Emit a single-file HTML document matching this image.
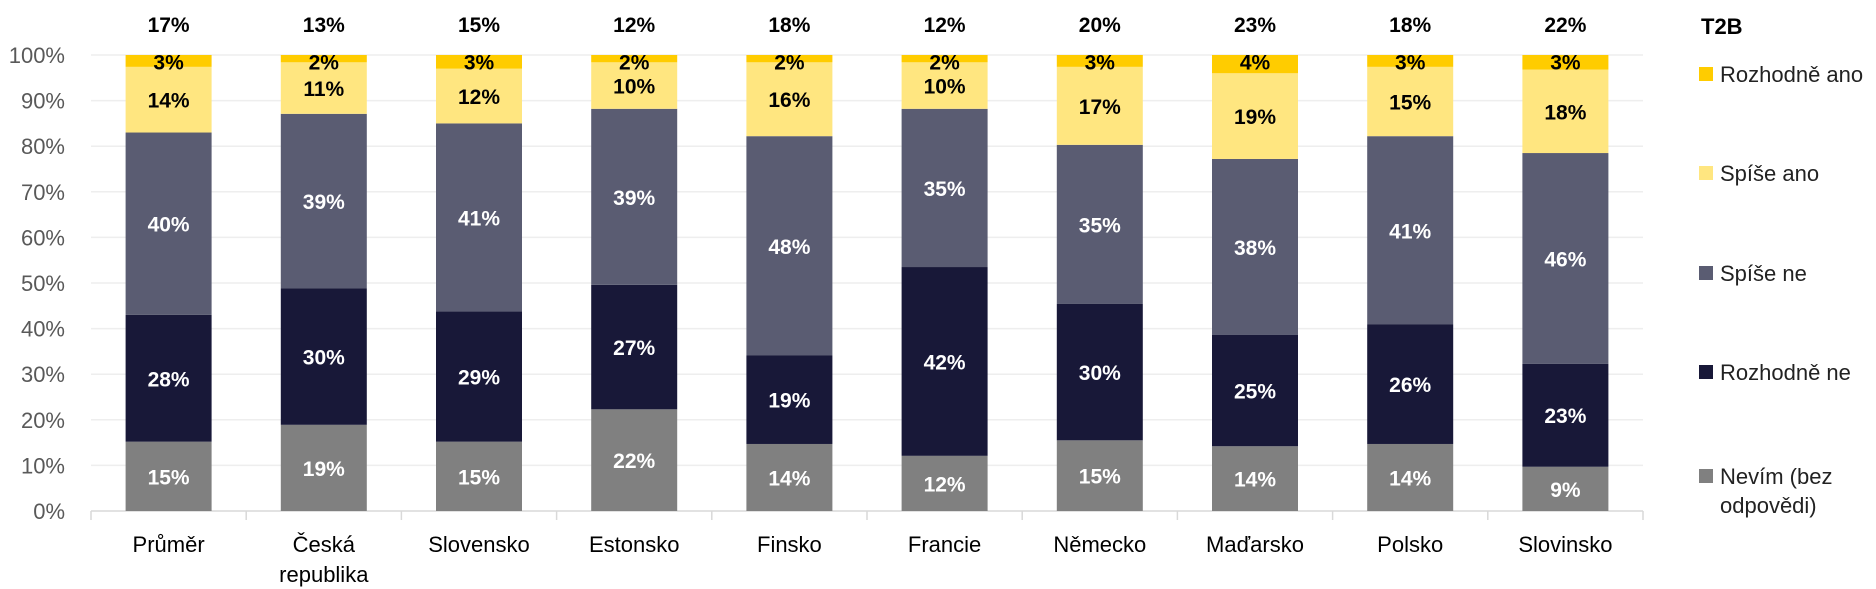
<!DOCTYPE html>
<html><head><meta charset="utf-8"><style>
html,body{margin:0;padding:0;background:#fff;width:1876px;height:589px;overflow:hidden}
svg{display:block}
text{font-family:"Liberation Sans","DejaVu Sans",sans-serif}
</style></head><body>
<svg id="c" width="1876" height="589" xmlns="http://www.w3.org/2000/svg"></svg>
<script>
var s='';
var X0=91,W=1552,Y0=511,H=456,cw=W/10,bw=86;
function y(v){return Y0-v/100*H;}
for(var i=1;i<=10;i++){s+='<line x1="'+X0+'" x2="'+(X0+W)+'" y1="'+y(i*10)+'" y2="'+y(i*10)+'" stroke="#eeeeee" stroke-width="1.5"/>';}
for(var i=0;i<=10;i++){s+='<text x="65" y="'+(y(i*10)+8)+'" text-anchor="end" font-size="22" fill="#595959">'+(i*10)+'%</text>';}
s+='<line x1="'+X0+'" x2="'+(X0+W)+'" y1="'+Y0+'" y2="'+Y0+'" stroke="#d9d9d9" stroke-width="1.5"/>';
for(var i=0;i<=10;i++){var xx=X0+i*cw;s+='<line x1="'+xx+'" x2="'+xx+'" y1="'+Y0+'" y2="'+(Y0+9)+'" stroke="#d9d9d9" stroke-width="1.5"/>';}
var cats=[["Průměr"],["Česká","republika"],["Slovensko"],["Estonsko"],["Finsko"],["Francie"],["Německo"],["Maďarsko"],["Polsko"],["Slovinsko"]];
var b=[[15.2,43,83,97.4],[18.9,48.8,87.1,98.4],[15.2,43.8,85,97],[22.3,49.6,88.2,98.4],[14.7,34.1,82.2,98.4],[12.1,53.5,88.2,98.4],[15.5,45.4,80.3,97.4],[14.2,38.6,77.2,96],[14.7,40.9,82.2,97.4],[9.7,32.3,78.5,96.8]];
var lab=[[15,28,40,14,3],[19,30,39,11,2],[15,29,41,12,3],[22,27,39,10,2],[14,19,48,16,2],[12,42,35,10,2],[15,30,35,17,3],[14,25,38,19,4],[14,26,41,15,3],[9,23,46,18,3]];
var tot=[17,13,15,12,18,12,20,23,18,22];
var col=["#808080","#181838","#5a5c72","#ffe680","#ffcc00"];
var tc=["#fff","#fff","#fff","#000","#000"];
for(var i=0;i<10;i++){
 var cx=X0+cw*(i+0.5);var bd=[0].concat(b[i]).concat([100]);
 for(var k=0;k<5;k++){var t=y(bd[k+1]),bt=y(bd[k]);
  s+='<rect x="'+(cx-bw/2)+'" y="'+t+'" width="'+bw+'" height="'+(bt-t)+'" fill="'+col[k]+'"/>';}
 for(var k=0;k<5;k++){var m=(y(bd[k+1])+y(bd[k]))/2;if(k==4)m=y(99)+2;
  s+='<text x="'+cx+'" y="'+(m+8)+'" text-anchor="middle" font-size="21" font-weight="bold" fill="'+tc[k]+'">'+lab[i][k]+'%</text>';}
 s+='<text x="'+cx+'" y="32" text-anchor="middle" font-size="21" font-weight="bold" fill="#000">'+tot[i]+'%</text>';
 for(var j=0;j<cats[i].length;j++)s+='<text x="'+cx+'" y="'+(552+j*30)+'" text-anchor="middle" font-size="22" fill="#000">'+cats[i][j]+'</text>';
}
s+='<text x="1701" y="34" font-size="22" font-weight="bold" fill="#000">T2B</text>';
var lg=[["Rozhodně ano",74,"#ffcc00"],["Spíše ano",173,"#ffe680"],["Spíše ne",273,"#5a5c72"],["Rozhodně ne",372,"#181838"],["Nevím (bez",476,"#808080"]];
lg.forEach(function(l){s+='<rect x="1699" y="'+(l[1]-7)+'" width="14" height="14" fill="'+l[2]+'"/><text x="1720" y="'+(l[1]+8)+'" font-size="22" fill="#222">'+l[0]+'</text>';});
s+='<text x="1720" y="513" font-size="22" fill="#222">odpovědi)</text>';
document.getElementById('c').innerHTML=s;
</script>
</body></html>
